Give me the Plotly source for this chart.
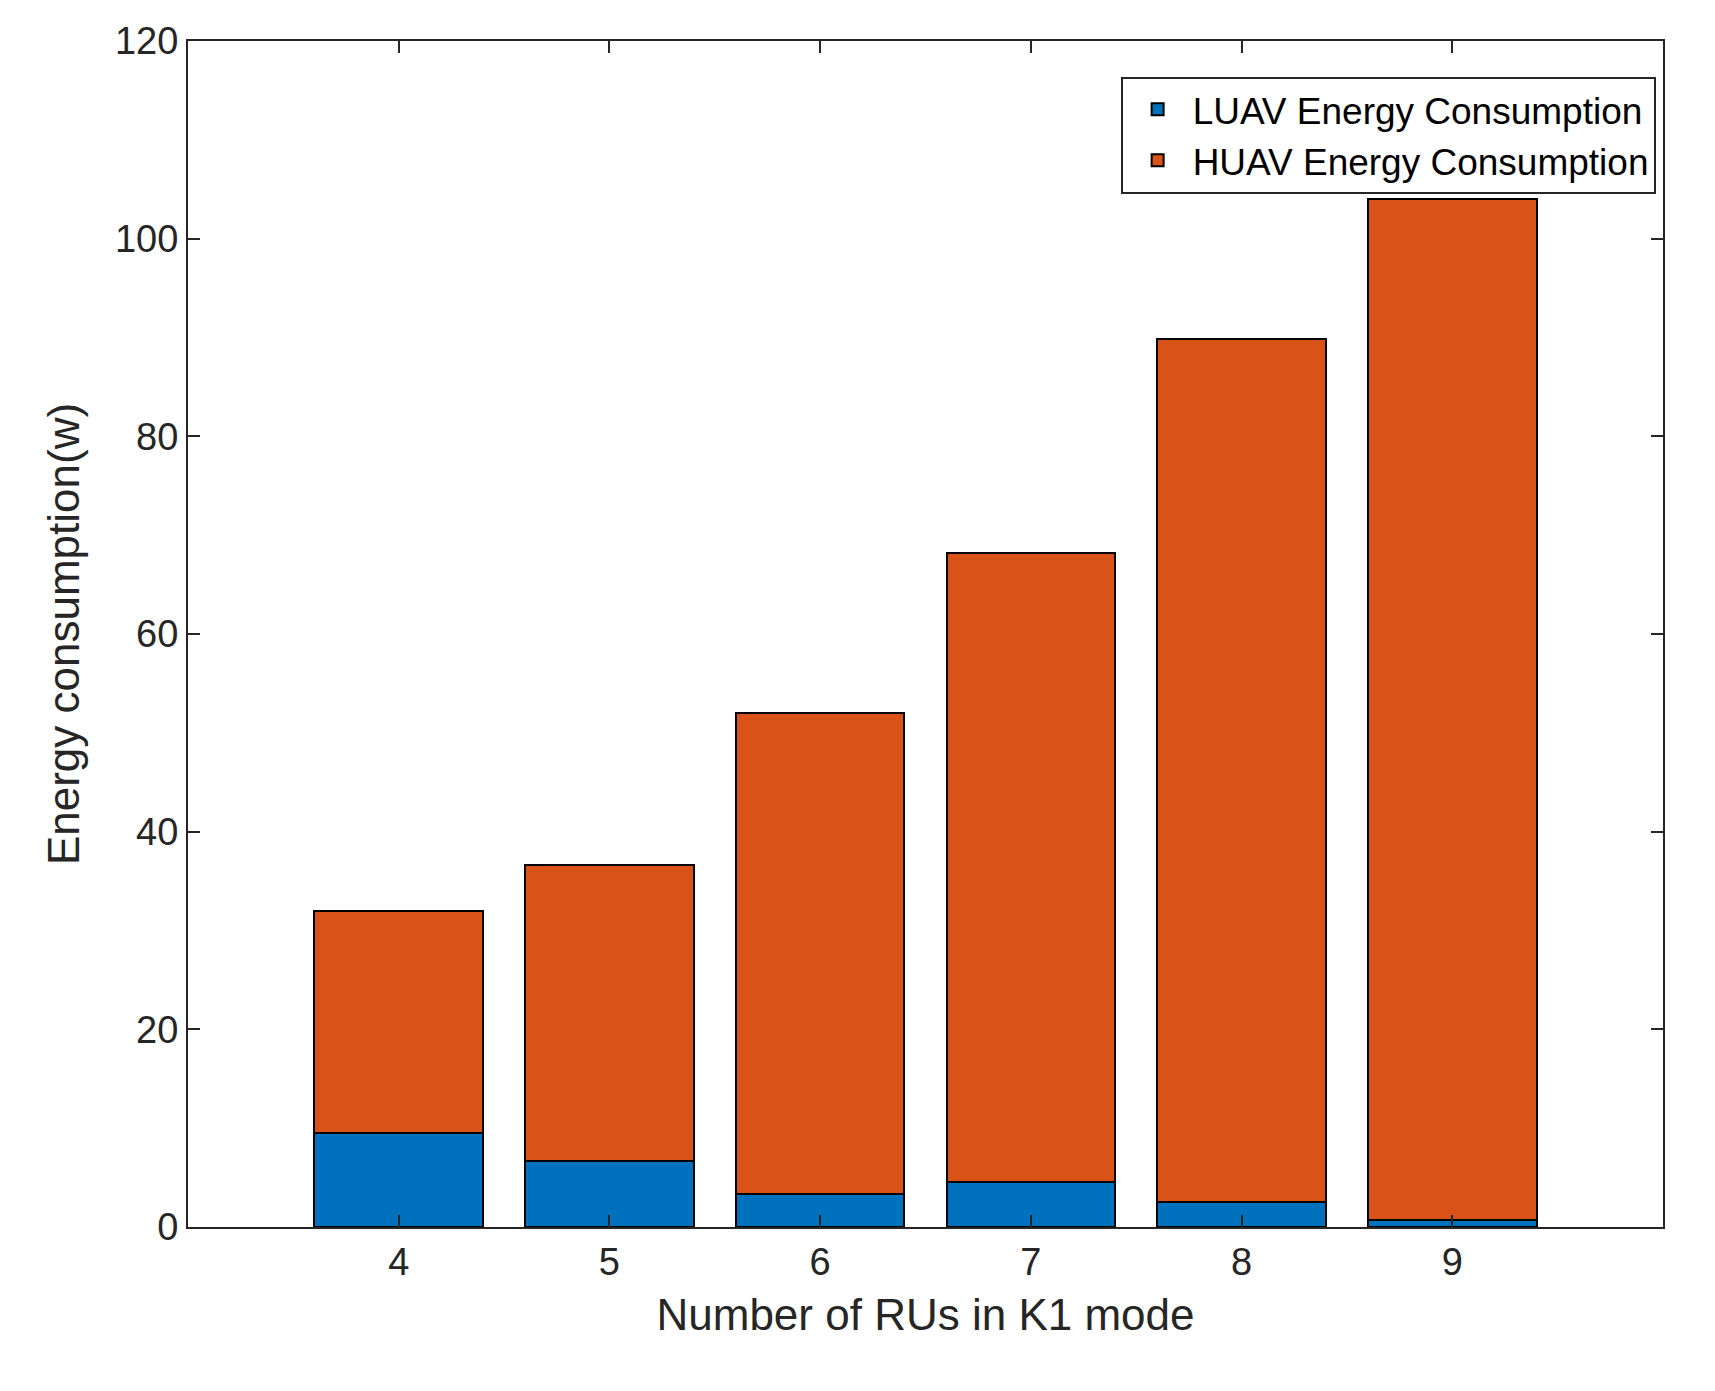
import plotly.graph_objects as go

rus = [4, 5, 6, 7, 8, 9]
luav = [9.5, 6.7, 3.3, 4.6, 2.5, 0.7]
huav = [22.5, 29.9, 48.7, 63.6, 87.3, 103.3]

fig = go.Figure()
fig.add_trace(go.Bar(x=rus, y=luav, name='LUAV Energy Consumption', width=0.8,
                     marker=dict(color='#0072BD', line=dict(color='black', width=2))))
fig.add_trace(go.Bar(x=rus, y=huav, name='HUAV Energy Consumption', width=0.8,
                     marker=dict(color='#D95319', line=dict(color='black', width=2))))

axis = dict(showline=True, linecolor='#262626', linewidth=2, mirror='ticks', ticks='inside',
            ticklen=12, tickwidth=2, tickcolor='#262626', showgrid=False, zeroline=False,
            tickfont=dict(size=38, color='#262626'))
fig.update_layout(
    barmode='stack',
    width=1715, height=1391,
    plot_bgcolor='white', paper_bgcolor='white',
    font=dict(family='Liberation Sans, Arial, sans-serif', color='#262626'),
    margin=dict(l=180, r=60, t=26, b=172),
    xaxis=dict(axis, range=[3, 10], tickvals=rus,
               title=dict(text='Number of RUs in K1 mode', font=dict(size=44), standoff=18)),
    yaxis=dict(axis, range=[0, 120], dtick=20,
               title=dict(text='Energy consumption(w)', font=dict(size=44), standoff=22)),
    legend=dict(x=0.995, xanchor='right', y=0.97, yanchor='top', bgcolor='white',
                bordercolor='#262626', borderwidth=2, traceorder='normal',
                font=dict(size=37, color='black'), itemwidth=60),
)
fig.write_html("out.html")
